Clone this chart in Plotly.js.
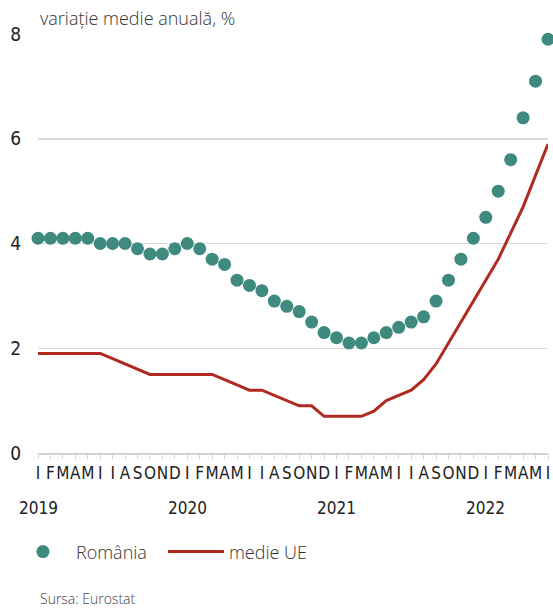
<!DOCTYPE html>
<html>
<head>
<meta charset="utf-8">
<script src="https://cdn.plot.ly/plotly-3.0.1.min.js"></script>
<style>html,body{margin:0;padding:0;background:#fff;}#chart{width:553px;height:608px;}</style>
</head>
<body>
<div id="chart"></div>
<script>
const monthLetters = ['I','F','M','A','M','I','I','A','S','O','N','D'];
const years = ['2019','2020','2021','2022'];
const monthsPerYear = [12, 12, 12, 6];

const romania = [4.1,4.1,4.1,4.1,4.1,4.0,4.0,4.0,3.9,3.8,3.8,3.9,
                 4.0,3.9,3.7,3.6,3.3,3.2,3.1,2.9,2.8,2.7,2.5,2.3,
                 2.2,2.1,2.1,2.2,2.3,2.4,2.5,2.6,2.9,3.3,3.7,4.1,
                 4.5,5.0,5.6,6.4,7.1,7.9];
const medieUE = [1.9,1.9,1.9,1.9,1.9,1.9,1.8,1.7,1.6,1.5,1.5,1.5,
                 1.5,1.5,1.5,1.4,1.3,1.2,1.2,1.1,1.0,0.9,0.9,0.7,
                 0.7,0.7,0.7,0.8,1.0,1.1,1.2,1.4,1.7,2.1,2.5,2.9,
                 3.3,3.7,4.2,4.7,5.3,5.9];

const xIdx = [], tickText = [], yearPos = [];
let k = 0;
monthsPerYear.forEach((n, yi) => {
  yearPos.push(k);
  for (let m = 0; m < n; m++) { xIdx.push(k); tickText.push(monthLetters[m]); k++; }
});

const narrow = 'Liberation Sans Narrow, DejaVu Sans Condensed, Arial Narrow, sans-serif';
const sans = 'Open Sans, Noto Sans, sans-serif';

const traces = [
  {x: xIdx, y: romania, name: 'România', type: 'scatter', mode: 'markers',
   marker: {color: '#3e8a7f', size: 13}, cliponaxis: false},
  {x: xIdx, y: medieUE, name: 'medie UE', type: 'scatter', mode: 'lines',
   line: {color: '#b02a1f', width: 3}, cliponaxis: false}
];

const annotations = years.map((yr, i) => ({
  text: yr, x: yearPos[i], xref: 'x', y: 0, yref: 'paper',
  xanchor: 'center', yanchor: 'middle', yshift: -55, showarrow: false,
  font: {family: narrow, size: 17, color: '#222'}
}));
annotations.push({text: 'variație medie anuală, %', x: 0, xref: 'paper', y: 1, yref: 'paper',
  xanchor: 'left', yanchor: 'middle', yshift: 16, showarrow: false,
  font: {family: sans, size: 18, color: '#333', weight: 300}});
annotations.push({text: 'Sursa: Eurostat', x: 0, xref: 'paper', y: 0, yref: 'paper',
  xanchor: 'left', yanchor: 'middle', yshift: -145, showarrow: false,
  font: {family: sans, size: 14, color: '#444', weight: 300}});

const layout = {
  width: 553, height: 608,
  margin: {l: 38, r: 5, t: 34, b: 155},
  paper_bgcolor: '#fff', plot_bgcolor: '#fff',
  showlegend: true,
  legend: {orientation: 'h', x: -0.055, xanchor: 'left', y: -0.236, yanchor: 'middle',
    font: {family: sans, size: 18, color: '#333', weight: 300}, itemwidth: 56,
    entrywidth: 82, entrywidthmode: 'pixels', bgcolor: 'rgba(0,0,0,0)'},
  xaxis: {range: [0, 41], tickvals: xIdx, ticktext: tickText, showgrid: false, zeroline: false,
    showline: true, linecolor: '#d3d3d3', linewidth: 1.5, ticks: 'outside', ticklen: 4,
    tickcolor: '#d3d3d3', tickwidth: 1, tickangle: 0,
    tickfont: {family: narrow, size: 17, color: '#222'}, fixedrange: true},
  yaxis: {range: [0, 8], dtick: 2, tick0: 0, showgrid: true, gridcolor: '#d9d9d9', gridwidth: 1.5,
    zeroline: false, showline: false, ticks: '', ticklabelstandoff: 16,
    tickfont: {family: narrow, size: 19, color: '#222'}, fixedrange: true},
  annotations: annotations
};

Plotly.newPlot('chart', traces, layout, {displayModeBar: false, staticPlot: true});
</script>
</body>
</html>
